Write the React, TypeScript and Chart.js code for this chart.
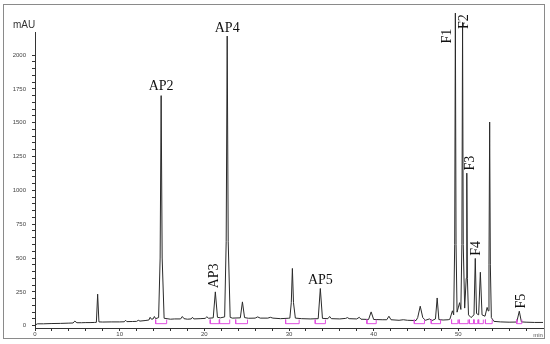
import React, { useEffect, useRef } from 'react';
import { Chart, registerables } from 'chart.js';

Chart.register(...registerables);

// Retention time (min) and detector signal (mAU)
const times: number[] = [
  0.0, 0.3, 1.0, 2.0, 3.0, 4.0, 4.5, 4.7, 4.95, 5.5, 6.0, 6.5, 7.0, 7.25, 7.4, 7.55, 8.0, 9.0, 10.0,
  10.55, 10.7, 10.85, 11.5, 12.0, 12.2, 12.4, 13.0, 13.45, 13.6, 13.75, 13.95, 14.1, 14.25,
  14.6, 14.78, 14.9, 15.02, 15.25,
  16.0, 16.5, 17.2, 17.4, 17.6, 18.0, 18.45, 18.6, 18.75, 19.5, 20.1, 20.3, 20.5, 21.05,
  21.3, 21.55, 21.9, 22.4, 22.58, 22.7, 22.82, 23.05, 23.3, 24.25, 24.5, 24.75, 25.2, 26.0, 26.3, 26.6, 27.5, 27.8,
  28.1, 29.0, 29.9, 30.1, 30.27, 30.4, 30.53, 30.75, 31.5, 32.5, 33.45, 33.7, 33.95, 34.6, 34.8, 35.0, 36.0,
  36.7, 36.9, 37.1, 38.0, 38.3, 38.5, 39.4, 39.7, 40.0, 41.0, 41.55, 41.8, 42.05, 43.0, 43.5, 44.0,
  45.0, 45.2, 45.5, 45.8, 46.1, 46.6, 46.9, 47.3, 47.5, 47.7, 48.2, 48.8, 49.0, 49.3, 49.45, 49.57, 49.65,
  49.73, 49.85, 50.15, 50.3, 50.42, 50.5, 50.58, 50.75, 50.93, 51.0, 51.07, 51.2, 51.5, 51.85, 52.0, 52.15, 52.4,
  52.6, 52.8, 53.15, 53.4, 53.52, 53.62, 53.7, 53.78, 53.9, 54.2, 55.0, 56.0, 56.9, 57.2, 57.45, 58.0, 59.0, 60.0,
];
const signal: number[] = [
  5, 14, 14, 16, 17, 19, 20, 34, 22, 22, 23, 23, 24, 25, 233, 28, 27, 28, 28,
  29, 40, 30, 31, 32, 40, 34, 38, 42, 62, 48, 50, 68, 52,
  60, 500, 1700, 500, 55,
  48, 50, 50, 68, 52, 48, 50, 62, 50, 52, 54, 66, 55, 58,
  250, 62, 58, 65, 620, 2140, 620, 62, 56, 58, 176, 60, 55, 56, 65, 56, 56, 62,
  56, 52, 55, 56, 170, 423, 170, 56, 52, 50, 52, 275, 54, 52, 68, 52, 50,
  54, 60, 52, 50, 62, 48, 46, 102, 46, 44, 44, 70, 44, 40, 44, 40,
  38, 60, 144, 60, 40, 50, 38, 50, 205, 45, 42, 44, 48, 110, 80, 600, 2310,
  600, 100, 170, 120, 600, 2240, 600, 130, 350, 1127, 350, 80, 60, 80, 497, 90, 80,
  395, 80, 70, 135, 110, 450, 1505, 450, 60, 32, 28, 26, 27, 107, 28, 26, 24, 24,
];

// Integration windows (pink baseline markers)
const integStart: number[] = [14.25, 20.7, 21.8, 23.7, 29.6, 33.1, 39.2, 44.8, 46.8, 49.2, 50.1, 51.3, 51.85, 52.4, 53.2, 56.9];
const integEnd: number[] = [15.55, 21.75, 23.0, 25.1, 31.2, 34.3, 40.3, 46.0, 47.9, 49.95, 51.15, 51.8, 52.3, 52.95, 54.0, 57.5];

// Peak labels
const peakNames: string[] = ['AP2', 'AP3', 'AP4', 'AP5', 'F1', 'F2', 'F3', 'F4', 'F5'];
const peakTimes: number[] = [14.9, 21.3, 22.7, 33.7, 49.65, 50.5, 51.0, 52.0, 57.2];
const peakHeights: number[] = [1700, 250, 2140, 275, 2310, 2240, 1127, 497, 107];

const yMajorStep = 250;
const xMajorStep = 10;

export default function App() {
  const ref = useRef<HTMLCanvasElement | null>(null);

  useEffect(() => {
    if (!ref.current) return;
    const trace = times.map((t, i) => ({ x: t, y: signal[i] }));
    const integTop = 45;
    const integBottom = 15;
    const pink: any[] = [];
    integStart.forEach((s, i) => {
      const e = integEnd[i];
      pink.push({ x: s, y: integTop }, { x: s, y: integBottom }, { x: e, y: integBottom }, { x: e, y: integTop }, { x: e, y: null });
    });

    // style: label offsets in pixels from peak apex, and rotation
    const labelStyle: { dx: number; dy: number; rot: boolean }[] = [
      { dx: 0, dy: -9, rot: false },
      { dx: -1.5, dy: -16, rot: true },
      { dx: 0, dy: -8, rot: false },
      { dx: 0, dy: -8, rot: false },
      { dx: -8, dy: 23, rot: true },
      { dx: 2, dy: -1, rot: true },
      { dx: 4, dy: -10, rot: true },
      { dx: 1, dy: -10, rot: true },
      { dx: 2.5, dy: -10, rot: true },
    ];

    const labelsPlugin = {
      id: 'peakLabels',
      afterDatasetsDraw(chart: any) {
        const ctx = chart.ctx;
        const xs = chart.scales.x;
        const ys = chart.scales.y;
        ctx.save();
        ctx.fillStyle = '#111';
        ctx.font = '14px "Liberation Serif", serif';
        ctx.textAlign = 'center';
        ctx.textBaseline = 'middle';
        peakNames.forEach((name, i) => {
          const st = labelStyle[i];
          const px = xs.getPixelForValue(peakTimes[i]) + st.dx;
          const py = ys.getPixelForValue(peakHeights[i]) + st.dy;
          ctx.save();
          ctx.translate(px, py);
          if (st.rot) ctx.rotate(-Math.PI / 2);
          ctx.fillText(name, 0, 0);
          ctx.restore();
        });
        ctx.fillStyle = '#333';
        ctx.font = '10px "Liberation Sans", Arial, sans-serif';
        ctx.fillText('mAU', 24, 25);
        ctx.font = '6px "Liberation Sans", Arial, sans-serif';
        ctx.fillStyle = '#555';
        ctx.fillText('min', 538, 335);
        ctx.restore();
      },
    };

    const chart = new Chart(ref.current, {
      type: 'line',
      data: {
        datasets: [
          {
            data: pink,
            borderColor: '#e04ee0',
            borderWidth: 1,
            pointRadius: 0,
            tension: 0,
            spanGaps: false,
            clip: false as any,
          },
          {
            data: trace,
            borderColor: '#2a2a2a',
            borderWidth: 1,
            pointRadius: 0,
            tension: 0,
            clip: false as any,
          },
        ],
      },
      options: {
        animation: false,
        responsive: false,
        events: [],
        layout: { padding: { left: 0, top: 32, right: 7, bottom: 0 } },
        plugins: { legend: { display: false }, tooltip: { enabled: false } },
        scales: {
          x: {
            type: 'linear',
            min: 0,
            max: 60,
            afterFit: (s: any) => { s.height = 16; },
            afterBuildTicks: (s: any) => { s.ticks = s.ticks.filter((t: any) => t.value % 2 === 0 && t.value <= 58); },
            border: { display: true, color: '#333', width: 1 },
            grid: { drawOnChartArea: false, drawTicks: true, tickLength: 3, color: '#333' },
            ticks: {
              stepSize: 2,
              autoSkip: false,
              maxRotation: 0,
              padding: 0,
              includeBounds: false,
              color: '#444',
              font: { size: 6, family: '"Liberation Sans", Arial, sans-serif' },
              callback: (v: any) => (v % xMajorStep === 0 ? String(v) : ''),
            },
          },
          y: {
            type: 'linear',
            min: -17,
            max: 2170,
            afterFit: (s: any) => { s.width = 35; },
            afterBuildTicks: (s: any) => { s.ticks = s.ticks.filter((t: any) => t.value % 50 === 0 && t.value >= 0 && t.value <= 2000); },
            border: { display: true, color: '#333', width: 1 },
            grid: { drawOnChartArea: false, drawTicks: true, tickLength: 3, color: '#333' },
            ticks: {
              stepSize: 50,
              autoSkip: false,
              padding: 6,
              includeBounds: false,
              color: '#444',
              font: { size: 6, family: '"Liberation Sans", Arial, sans-serif' },
              callback: (v: any) => (v % yMajorStep === 0 ? String(v) : ''),
            },
          },
        },
      },
      plugins: [labelsPlugin],
    });
    return () => chart.destroy();
  }, []);

  return (
    <div style={{ position: 'absolute', left: 0, top: 0, width: 550, height: 344, background: '#fff' }}>
      <div style={{ position: 'absolute', left: 3, top: 4, width: 542, height: 335, border: '1px solid #8a8a8a', boxSizing: 'border-box' }} />
      <canvas ref={ref} width={550} height={344} style={{ position: 'absolute', left: 0, top: 0 }} />
    </div>
  );
}
